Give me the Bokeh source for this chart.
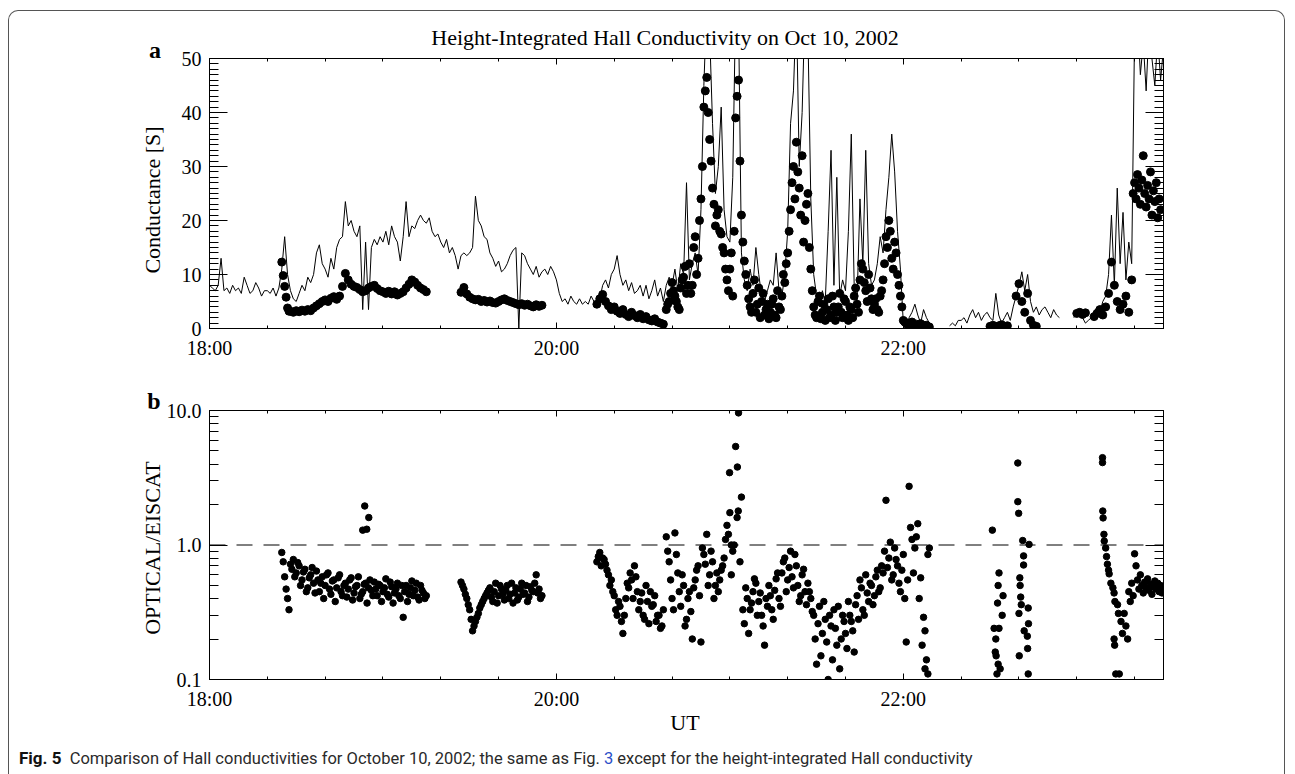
from bokeh.plotting import figure
from bokeh.models import (Range1d, SingleIntervalTicker, FixedTicker, LinearAxis, LogAxis,
                          CustomJSTickFormatter, Span, Div, GridBox)
from bokeh.embed import file_html
from bokeh.resources import INLINE

NAN = float("nan")

# ---------------- texts ----------------
TITLE = "Height-Integrated Hall Conductivity on Oct 10, 2002"
YLABEL_A = "Conductance [S]"
YLABEL_B = "OPTICAL/EISCAT"
XLABEL = "UT"
PANEL_A = "a"
PANEL_B = "b"
CAPTION_BOLD = "Fig. 5"
CAPTION_1 = "Comparison of Hall conductivities for October 10, 2002; the same as Fig."
CAPTION_REF = "3"
CAPTION_2 = "except for the height-integrated Hall conductivity"

# ---------------- data (time in minutes after 18:00 UT) ----------------
X_MIN, X_MAX = 0, 330
YA_MIN, YA_MAX = 0, 50
YB_MIN, YB_MAX = 0.1, 10.0
RATIO_REF = 1.0

# EISCAT height-integrated Hall conductance, one value per minute from 18:00
eiscat_start, eiscat_step = 0, 1
eiscat = [
    8, 7.5, 7, 8, 13, 7, 7.5, 6.5, 8, 7,
    7.5, 6.5, 9.5, 8, 6.5, 7, 8.5, 7.5, 6, 7,
    7, 6.5, 7.5, 6, 7.5, 11, 17, 10, 7, 5.5,
    5, 6.5, 8, 7, 9.5, 8.5, 10, 14, 15.5, 12,
    11, 9.5, 13, 11, 15, 16.5, 17, 23.5, 19, 20,
    18, 17, 19, 3.5, 16, 3.5, 15, 16.5, 15.5, 17,
    16, 18, 15.5, 19, 17, 16, 12.5, 17, 23.5, 17,
    19, 18.5, 20, 21, 20, 19.5, 20.5, 18, 17, 17.5,
    16, 15, 16.5, 14, 15, 13.5, 11, 13.5, 14, 13.5,
    14, 15, 24.5, 20, 19, 17, 16.5, 14, 13, 11.5,
    12.5, 10.5, 11, 12, 13.5, 14.5, 15, 0, 14, 13.5,
    12, 11, 10, 11.5, 9.5, 10.5, 11, 10, 11.5, 10.5,
    9, 6.5, 5, 5.5, 4.5, 6, 5, 4.5, 5.5, 4.5,
    5, 4.5, 6, 5, 4, 5.5, 8, 9, 7.5, 10,
    11, 13.5, 10, 8, 9, 7, 8.5, 6.5, 7, 8,
    6, 8, 5.5, 7, 9, 6, 7.5, 5, 8, 9.5,
    8, 11, 7, 12, 10, 27, 9, 12, 14, 10,
    22, 45, 60, 55, 38, 25, 30, 41, 22, 17,
    16, 28, 60, 58, 14, 9, 7, 11, 8, 15,
    10, 6, 5, 7, 9, 8, 14, 7, 6, 10,
    18, 38, 44, 60, 30, 40, 60, 55, 24, 10,
    6, 4, 7, 5, 18, 33, 8, 28, 6, 9,
    7, 18, 36, 8, 5, 24, 12, 33, 12, 8,
    9, 12, 17, 14, 22, 28, 36, 29, 18, 11,
    1, 0.5, 2, 3, 4.5, 2.5, 1, 3.5, 2, 1,
    0, NAN, NAN, NAN, NAN, NAN, 0.5, 1, 0.5, 1.5,
    1.5, 2, 1, 2.5, 3.5, 2, 3, 1.5, 2.5, 3,
    2, 1.5, 6.5, 2.5, 1, 2, 3, 1.5, 4, 6,
    8, 10.5, 7, 10, 5, 3, 4, 2.5, 3.5, 4,
    3, 2, 3.5, 2.5, 2, NAN, NAN, NAN, NAN, 2,
    3, 3.5, 2, 1, 1.5, 2, 3, 4, 3, 5,
    6, 10, 21, 8, 26, 12, 21.5, 9, 16, 12,
    55, 58, 47, 53, 44, 56, 50, 45, 54, 46, 52,
]

# Optical conductance (dots), segments: start minute, step, values
opt_1 = [12.3, 9.8, 7.8, 5.8, 3.8, 3.2]
opt_2 = [3.2, 3.0, 3.3, 3.1, 3.4, 3.2, 3.5, 3.3, 3.8, 4.2,
         4.6, 5.0, 5.3, 5.0, 5.6, 5.9, 5.4, 6.0, 7.8, 10.2,
         9.0, 8.2, 7.8, 7.6, 7.2, 6.8, 7.0, 7.5, 7.8, 8.0,
         7.4, 7.0, 6.8, 6.5, 6.9, 6.4, 6.8, 6.2, 6.5, 6.8,
         7.5, 8.2, 9.0, 8.6, 8.0, 7.5, 7.2, 6.8]
opt_3 = [6.7, 7.6, 6.4, 5.8, 5.5, 5.3, 5.4, 5.0, 5.2, 4.9,
         5.1, 4.8, 4.7, 5.0, 5.3, 5.5, 5.2, 5.0, 4.8, 4.6,
         4.4, 4.6, 4.3, 4.5, 4.2, 4.0, 4.4, 4.1, 4.3]
opt_4 = [4.5, 5.5, 6.3, 5.0, 4.2, 3.5, 4.0, 3.2, 2.8, 3.5,
         2.6, 2.2, 3.0, 2.4, 2.0, 2.6, 1.8, 2.2, 1.6, 1.4,
         1.8, 1.2, 1.0, 0.8]
opt_5 = [3.5, 5.0, 8.5, 6.0, 4.0, 7.5, 9.5, 6.5,
         12.0, 8.0, 17.0, 13.0, 24.0,
         41.0, 46.5, 35.0,
         26.0, 19.0, 22.0, 17.5, 14.0,
         9.0, 11.0, 6.0,
         39.0, 46.0, 21.0,
         12.5, 8.0, 4.0, 6.5, 3.0, 7.5, 5.0, 2.5, 4.5,
         3.0, 5.5, 2.0, 4.0, 6.0, 8.5,
         14.0, 22.0, 30.0, 34.5, 26.0, 32.0, 20.0, 25.0, 11.0,
         4.0, 2.0, 6.0, 3.0, 1.5, 5.5, 2.5, 4.0, 3.0, 6.5, 2.0, 5.0, 1.5, 3.5, 6.0, 4.5, 9.0,
         11.0, 7.0, 10.0, 5.5,
         4.5, 3.5, 6.0,
         9.0, 17.0, 20.0, 13.0, 16.0, 10.0, 6.0,
         1.5, 1.0, 0.8, 1.2, 0.6, 0.5, 0.9, 0.4, 0.6, 0.3]
opt_5b = [4.5, 6.5, 7.0, 5.0, 3.5, 9.0, 11.5, 8.0,
          6.5, 15.0, 10.0, 20.0, 30.0,
          44.0, 40.0, 31.0,
          23.0, 21.0, 18.0, 15.0, 11.0,
          7.0, 14.0, 18.0,
          43.0, 31.0, 16.0,
          10.0, 5.5, 3.0, 9.0, 4.5, 2.0, 6.5, 3.5, 1.8,
          4.5, 2.5, 7.0, 3.5, 10.0, 12.0,
          18.0, 27.0, 24.0, 29.0, 21.0, 16.0, 23.0, 15.0, 7.0,
          2.5, 5.0, 1.8, 4.5, 3.5, 2.0, 6.0, 1.5, 4.0, 3.0, 5.5, 2.5, 4.0, 2.0, 7.5, 3.0, 12.0,
          8.5, 5.0, 7.5, 3.5,
          5.5, 3.0, 7.0,
          12.0, 15.0, 18.0, 11.0, 14.0, 8.0, 4.0,
          1.2, 0.7, 1.0, 0.5, 0.8, 0.4, 0.6, 0.5, 0.3]
opt_6 = [0.4, 0.6, 0.3, 0.5, 0.7, 0.4, 0.5]
opt_7 = [6.0, 8.3, 5.0, 3.0, 6.5, 1.5, 0.6, 0.4]
opt_8 = [2.8, 3.0, 2.6, 2.9]
opt_9 = [2.2, 2.8, 3.5, 2.5, 4.0, 6.5, 12.3, 8.0, 5.0, 3.5, 4.5, 6.0, 3.0, 9.0]
opt_10 = [25, 27, 24, 28.5, 26, 23, 27.5, 32, 25, 22.5,
          26.5, 24, 29, 21, 25.5, 23.5, 27, 20.5, 24, 22]
opt_segments = [(25, 0.5, opt_1), (28, 1, opt_2), (87, 1, opt_3), (134, 1, opt_4),
                (158, 1, opt_5), (158.5, 1, opt_5b), (270, 1, opt_6), (279, 1, opt_7),
                (300, 1, opt_8), (306, 1, opt_9), (319.5, 0.5, opt_10)]

# Ratio OPTICAL/EISCAT, regular segments
ratio_1 = [0.88, 0.75, 0.58, 0.47, 0.40, 0.33]
ratio_2 = [0.72, 0.78, 0.62, 0.70, 0.55, 0.66, 0.48, 0.60, 0.52, 0.64,
           0.45, 0.58, 0.50, 0.62, 0.43, 0.55, 0.48, 0.60, 0.42, 0.52,
           0.47, 0.57, 0.44, 0.50, 0.40, 0.45, 0.52, 0.48, 0.46, 0.53,
           0.42, 0.50, 0.45, 0.56, 0.41, 0.49, 0.44, 0.52, 0.40, 0.29,
           0.50, 0.43, 0.54, 0.46, 0.41, 0.50, 0.44, 0.42]
ratio_2b = [0.66, 0.58, 0.74, 0.50, 0.63, 0.45, 0.57, 0.68, 0.44, 0.55,
            0.52, 0.40, 0.60, 0.47, 0.54, 0.38, 0.57, 0.45, 0.50, 0.41,
            0.55, 0.39, 0.49, 0.58, 0.43, 0.51, 0.37, 0.55, 0.42, 0.47,
            0.51, 0.38, 0.48, 0.43, 0.53, 0.37, 0.47, 0.42, 0.50, 0.45,
            0.38, 0.48, 0.42, 0.52, 0.39, 0.46, 0.40]
ratio_3 = [0.53, 0.47, 0.40, 0.33, 0.23, 0.27, 0.31, 0.36, 0.40, 0.44,
           0.48, 0.38, 0.52, 0.42, 0.47, 0.39, 0.50, 0.43, 0.37, 0.48,
           0.41, 0.52, 0.44, 0.38, 0.49, 0.45, 0.60, 0.47, 0.42]
ratio_3b = [0.50, 0.43, 0.36, 0.28, 0.25, 0.29, 0.34, 0.38, 0.42, 0.46,
            0.41, 0.45, 0.37, 0.50, 0.43, 0.46, 0.40, 0.52, 0.44, 0.39,
            0.47, 0.43, 0.50, 0.41, 0.46, 0.52, 0.44, 0.40]
ratio_4 = [0.75, 0.88, 0.80, 0.72, 0.60, 0.55, 0.42, 0.30, 0.35, 0.22,
           0.40, 0.48, 0.55, 0.70, 0.45, 0.38, 0.30, 0.50, 0.26, 0.35,
           0.42, 0.30, 0.24, 0.33]
ratio_4b = [0.82, 0.70, 0.78, 0.65, 0.50, 0.45, 0.33, 0.38, 0.27, 0.30,
            0.52, 0.62, 0.40, 0.58, 0.33, 0.44, 0.28, 0.38, 0.45, 0.36,
            0.27, 0.30, 0.25]
ratio_5 = [1.15, 0.75, 0.40, 1.23,
           0.62, 0.35, 0.50, 0.28, 0.45, 0.20,
           0.55, 0.70, 0.19, 0.85, 1.20, 0.60, 0.75, 0.50,
           0.45, 0.65, 0.80, 1.40, 1.74, 0.90, 5.40, 9.60, 2.27,
           0.26, 0.40, 0.33, 0.45, 0.52, 0.38, 0.30, 0.18, 0.35, 0.42, 0.28, 0.56, 0.40,
           0.62, 0.80, 0.55, 0.90, 0.48, 0.70, 0.38, 0.60, 0.45, 0.52,
           0.40, 0.30, 0.13, 0.35, 0.22, 0.28, 0.10, 0.25, 0.33, 0.18, 0.12, 0.30, 0.22,
           0.38, 0.27, 0.16, 0.42, 0.55, 0.33, 0.60, 0.38,
           0.50, 0.42, 0.65, 0.48,
           0.62, 2.15, 0.80, 0.55, 0.95, 0.70, 0.45, 0.85, 0.19,
           2.73, 1.10, 0.95, 1.44, 0.57, 0.29, 0.14, 0.95]
ratio_5b = [0.90, 0.55, 0.33, 0.85,
            0.45, 0.60, 0.25, 0.40, 0.32, 0.48,
            0.65, 0.42, 0.95, 0.72, 0.50, 0.90, 0.40, 0.62,
            0.55, 0.70, 1.10, 1.20, 0.60, 1.00, 1.60, 0.75, 0.33,
            0.48, 0.22, 0.37, 0.56, 0.30, 0.44, 0.25, 0.40, 0.50, 0.33, 0.46, 0.62, 0.35,
            0.75, 0.45, 0.68, 0.58, 0.85, 0.50, 0.42, 0.66, 0.36, 0.45,
            0.32, 0.20, 0.26, 0.15, 0.38, 0.19, 0.30, 0.14, 0.24, 0.35, 0.20, 0.27, 0.17,
            0.30, 0.23, 0.36, 0.28, 0.48, 0.30, 0.44, 0.52,
            0.36, 0.58, 0.45, 0.70,
            0.90, 0.68, 1.05, 0.60, 0.78, 0.52, 0.65, 0.40, 0.55,
            1.35, 0.62, 1.15, 0.40, 0.18, 0.12, 0.85]
ratio_6 = [0.45, 0.38, 0.52, 0.42, 0.86, 0.70, 0.55, 0.47, 0.60, 0.50,
           0.44, 0.53, 0.48, 0.56, 0.46, 0.51, 0.43, 0.49, 0.54, 0.47,
           0.52, 0.45, 0.50, 0.44, 0.48]
ratio_segments = [(25, 0.5, ratio_1), (28, 1, ratio_2), (28.5, 1, ratio_2b),
                  (87, 1, ratio_3), (87.5, 1, ratio_3b), (134, 1, ratio_4), (134.5, 1, ratio_4b),
                  (158, 1, ratio_5), (158.5, 1, ratio_5b), (318, 0.5, ratio_6)]

# Ratio, scattered groups (time, value)
ratio_g1_t = [53.0, 53.7, 54.4, 55.1, 179.9, 180.5, 182.6, 182.9, 247.5, 248.5]
ratio_g1_v = [1.29, 1.95, 1.31, 1.60, 3.45, 1.00, 3.80, 1.79, 0.23, 0.11]
ratio_g2_t = [270.8, 271.4, 271.8, 272.0, 272.1, 272.4, 272.6, 272.8, 272.8, 273.1, 273.1, 273.5, 274.2, 274.5]
ratio_g2_v = [1.29, 0.24, 0.16, 0.20, 0.15, 0.11, 0.37, 0.50, 0.13, 0.62, 0.24, 0.12, 0.30, 0.42]
ratio_g3_t = [279.6, 279.6, 279.9, 280.0, 280.1, 280.3, 280.6, 281.3, 281.6, 281.6, 281.8,
              282.9, 283.0, 283.2, 283.2, 283.3, 283.5, 280.4, 280.8]
ratio_g3_v = [4.07, 2.10, 1.72, 0.31, 0.15, 0.57, 0.41, 1.08, 0.83, 0.71, 0.23,
              0.21, 0.17, 0.34, 0.11, 0.26, 1.01, 0.50, 0.36]
ratio_g4_t = [308.9, 308.9, 309.0, 309.1, 309.4, 309.5, 310.0, 310.3, 310.6, 311.0, 311.2, 311.8,
              312.5, 312.9, 313.2, 312.9, 313.1, 313.5, 314.1, 314.4, 314.7, 315.3, 315.8, 316.4,
              317.0, 317.6]
ratio_g4_v = [4.46, 4.10, 1.79, 1.59, 1.20, 1.07, 0.95, 0.82, 0.72, 0.65, 0.61, 0.52,
              0.48, 0.44, 0.38, 0.20, 0.18, 0.11, 0.36, 0.31, 0.11, 0.27, 0.22, 0.31,
              0.25, 0.20]

# ticks (minutes after 18:00)
X_MAJOR_INTERVAL = 120
X_MINOR_PER_MAJOR = 6
YA_MAJOR_INTERVAL = 10
YA_MINOR_PER_MAJOR = 10
YB_MAJOR = [0.1, 1.0, 10.0]


def expand(segments):
    xs, ys = [], []
    for start, step, vals in segments:
        for i, v in enumerate(vals):
            xs.append(start + i * step)
            ys.append(v)
    return xs, ys


eiscat_t = [eiscat_start + i * eiscat_step for i in range(len(eiscat))]
opt_t, opt_v = expand(opt_segments)
rat_t, rat_v = expand(ratio_segments)
for gt, gv in ((ratio_g1_t, ratio_g1_v), (ratio_g2_t, ratio_g2_v),
               (ratio_g3_t, ratio_g3_v), (ratio_g4_t, ratio_g4_v)):
    rat_t += gt
    rat_v += gv

# ---------------- styling ----------------
W = 1295
H_A, H_B = 370, 404
FL, FR = 209, 132
SERIF = "Liberation Serif"
TICK_PX = "20px"

x_fmt = CustomJSTickFormatter(code="""
const h = 18 + Math.floor(tick / 60);
const m = Math.round(tick - (h - 18) * 60);
return h + ":" + (m < 10 ? "0" + m : "" + m);
""")
blank_fmt = CustomJSTickFormatter(code="return '';")
yb_fmt = CustomJSTickFormatter(code="return tick.toFixed(1);")


def style_axis(ax, major_in, minor_in, labels=True):
    ax.major_tick_in = major_in
    ax.major_tick_out = 0
    ax.minor_tick_in = minor_in
    ax.minor_tick_out = 0
    ax.axis_line_color = "black"
    ax.axis_line_width = 1
    ax.major_tick_line_color = "black"
    ax.minor_tick_line_color = "black"
    ax.major_label_text_font = SERIF
    ax.major_label_text_font_size = TICK_PX
    ax.major_label_text_color = "black"
    ax.major_label_standoff = 8
    if not labels:
        ax.formatter = blank_fmt
        ax.major_label_text_font_size = "0px"
        ax.major_label_standoff = 0


def x_ticker():
    return SingleIntervalTicker(interval=X_MAJOR_INTERVAL, num_minor_ticks=X_MINOR_PER_MAJOR)


def make_fig(height, y_range, y_type, top, bottom):
    p = figure(width=W, height=height, x_range=Range1d(X_MIN, X_MAX), y_range=y_range,
               y_axis_type=y_type, output_backend="svg", toolbar_location=None,
               min_border_left=FL, min_border_right=FR, min_border_top=top,
               min_border_bottom=bottom)
    p.xgrid.visible = False
    p.ygrid.visible = False
    p.outline_line_color = "black"
    p.background_fill_color = "white"
    p.border_fill_color = "white"
    p.xaxis[0].ticker = x_ticker()
    p.xaxis[0].formatter = x_fmt
    style_axis(p.xaxis[0], 6, 3)
    top_axis = LinearAxis(ticker=x_ticker())
    style_axis(top_axis, 6, 3, labels=False)
    p.add_layout(top_axis, "above")
    return p


# ---------------- panel a ----------------
pa = make_fig(H_A, Range1d(YA_MIN, YA_MAX), "linear", 58, H_A - 328)
pa.yaxis[0].ticker = SingleIntervalTicker(interval=YA_MAJOR_INTERVAL, num_minor_ticks=YA_MINOR_PER_MAJOR)
style_axis(pa.yaxis[0], 18, 9)
ax_right = LinearAxis(ticker=SingleIntervalTicker(interval=YA_MAJOR_INTERVAL, num_minor_ticks=YA_MINOR_PER_MAJOR))
style_axis(ax_right, 18, 9, labels=False)
pa.add_layout(ax_right, "right")

pa.line(eiscat_t, eiscat, line_color="black", line_width=1)
pa.scatter(opt_t, opt_v, size=8, fill_color="black", line_color="black")

# ---------------- panel b ----------------
pb = make_fig(H_B, Range1d(YB_MIN, YB_MAX), "log", 410 - H_A, H_A + H_B - 679)
yb_minor = [m * d for d in YB_MAJOR[:-1] for m in range(2, 10)]
pb.yaxis[0].ticker = FixedTicker(ticks=YB_MAJOR, minor_ticks=yb_minor)
pb.yaxis[0].formatter = yb_fmt
style_axis(pb.yaxis[0], 18, 9)
by_right = LogAxis(ticker=FixedTicker(ticks=YB_MAJOR, minor_ticks=yb_minor))
style_axis(by_right, 18, 9, labels=False)
pb.add_layout(by_right, "right")

pb.add_layout(Span(location=RATIO_REF, dimension="width", line_color="black",
                   line_width=1, line_dash="16 11"))
pb.scatter(rat_t, rat_v, size=6.5, fill_color="black", line_color="black")


# ---------------- text overlay ----------------
def centered(x, y, text, size, weight="normal", rotate=False, font=SERIF):
    rot = " rotate(-90deg)" if rotate else ""
    return (f'<div style="position:absolute;left:{x}px;top:{y}px;'
            f'transform:translate(-50%,-50%){rot};white-space:nowrap;line-height:1;'
            f"font-family:'{font}';font-size:{size}px;font-weight:{weight};color:#000;\">"
            f'{text}</div>')


caption_html = (
    '<div style="position:absolute;left:19px;top:747px;line-height:22px;white-space:nowrap;'
    "font-family:'Roboto';font-size:16.5px;color:#2a2a2a;\">"
    f'<b style="color:#111;font-size:17px">{CAPTION_BOLD}</b>&nbsp;&nbsp;{CAPTION_1} '
    f'<span style="color:#2b50c8">{CAPTION_REF}</span> {CAPTION_2}</div>'
)
border_html = ('<div style="position:absolute;left:8px;top:10px;width:1277px;height:770px;'
               'border:1.5px solid #555;border-bottom:none;border-radius:10px 10px 0 0;"></div>')

overlay_html = (
    '<div style="position:relative;width:1295px;height:774px;">'
    + border_html
    + centered(665, 38, TITLE, 22)
    + centered(155, 49.5, PANEL_A, 24, weight="bold")
    + centered(154, 401, PANEL_B, 24, weight="bold")
    + centered(153, 200, YLABEL_A, 22, rotate=True)
    + centered(153, 548, YLABEL_B, 22, rotate=True)
    + centered(685, 723, XLABEL, 22)
    + caption_html
    + '</div>'
)
overlay = Div(text=overlay_html, width=W, height=H_A + H_B, margin=0)

layout = GridBox(children=[(pa, 0, 0), (pb, 1, 0), (overlay, 0, 0, 2, 1)], spacing=0)
open("out.html", "w").write(file_html(layout, INLINE))
